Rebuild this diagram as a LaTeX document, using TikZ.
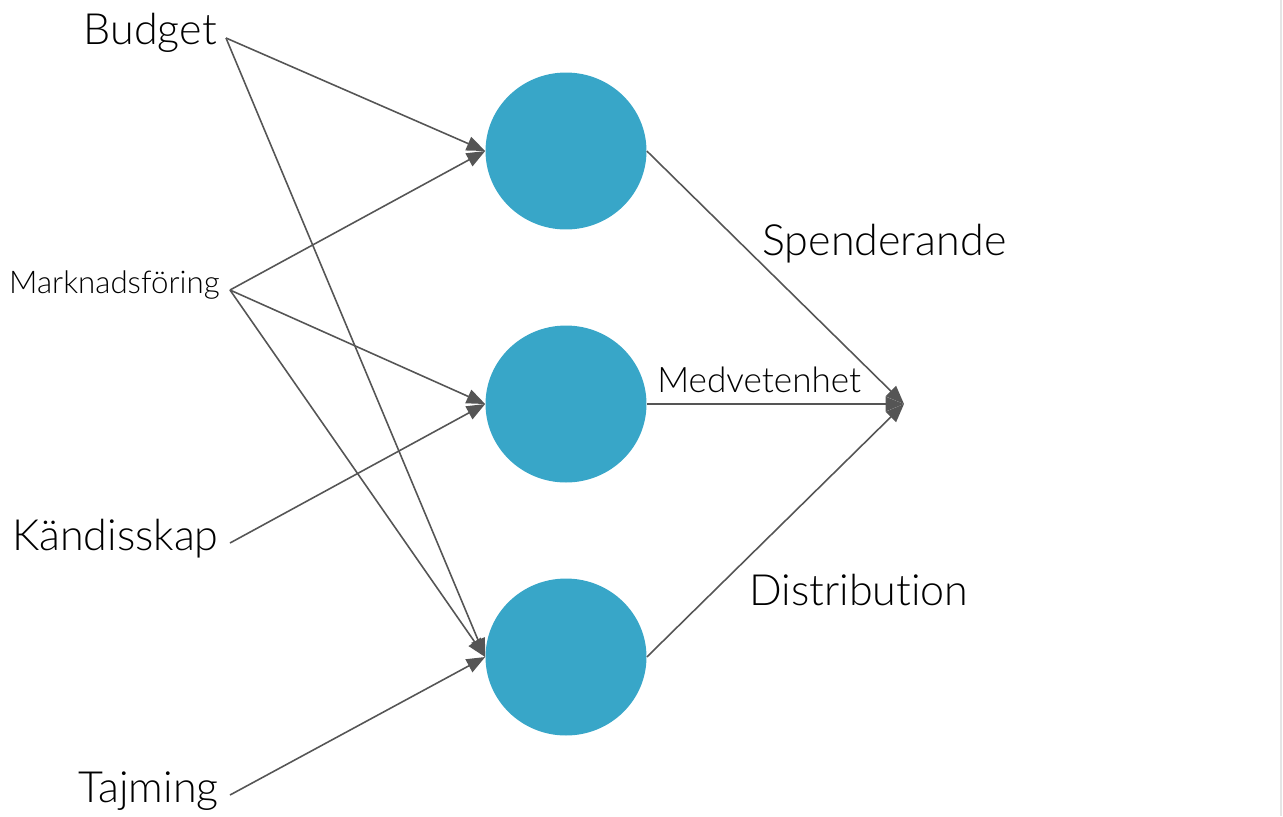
\documentclass[tikz,border=0pt]{standalone}
\usepackage{fontspec}
\setmainfont{Lato Light}[Ligatures={NoCommon,NoContextual}]
\usepackage{tikz}
\usetikzlibrary{arrows.meta,shapes.geometric}
\definecolor{nodeblue}{HTML}{38A6C8}
\definecolor{linegray}{HTML}{555555}
\tikzset{>={Triangle[length=0.37cm,width=0.29cm]}}
\tikzset{
  hidden/.style={ellipse,fill=nodeblue,minimum width=3.22cm,minimum height=3.14cm,inner sep=0pt},
  biglabel/.style={font=\fontsize{24.5}{28}\selectfont,inner sep=0pt},
  midlabel/.style={font=\fontsize{20}{24}\selectfont,inner sep=0pt},
  smalllabel/.style={font=\fontsize{17.8}{20}\selectfont,inner sep=0pt},
  link/.style={->,linegray,line width=0.9pt}
}

\begin{document}
\begin{tikzpicture}[x=0.02cm,y=-0.02cm]
\useasboundingbox (0,0) rectangle (1283,816);
\draw[gray!20,line width=1.2pt] (1281,0)--(1281,816);
    \node[hidden] (h1) at (566,151) {};
    \node[hidden] (h2) at (566,404) {};
    \node[hidden] (h3) at (566,657) {};
    \node[biglabel,anchor=base east] (budget) at (217,44) {Budget};
    \node[smalllabel,anchor=base east] (mark) at (220,293) {Marknadsföring};
    \node[biglabel,anchor=base east] (kand) at (219,550) {Kändisskap};
    \node[biglabel,anchor=base east] (tajm) at (219,802) {Tajming};
    \coordinate (budget-o) at (226,38);
    \coordinate (mark-o) at (230,290);
    \coordinate (kand-o) at (230,543);
    \coordinate (tajm-o) at (230,795);
    \coordinate (out) at (904,404);
    \draw[link] (budget-o)--(h1.west);
    \draw[link] (budget-o)--(h3.west);
    \draw[link] (mark-o)--(h1.west);
    \draw[link] (mark-o)--(h2.west);
    \draw[link] (mark-o)--(h3.west);
    \draw[link] (kand-o)--(h2.west);
    \draw[link] (tajm-o)--(h3.west);
    \draw[link] (h1.east)--(out);
    \draw[link] (h2.east)--(out);
    \draw[link] (h3.east)--(out);
    \node[biglabel,anchor=base west] (spend) at (762,255) {Spenderande};
    \node[midlabel,anchor=base west] (medv) at (657,392) {Medvetenhet};
    \node[biglabel,anchor=base west] (distr) at (749,605) {Distribution};
\end{tikzpicture}
\end{document}
